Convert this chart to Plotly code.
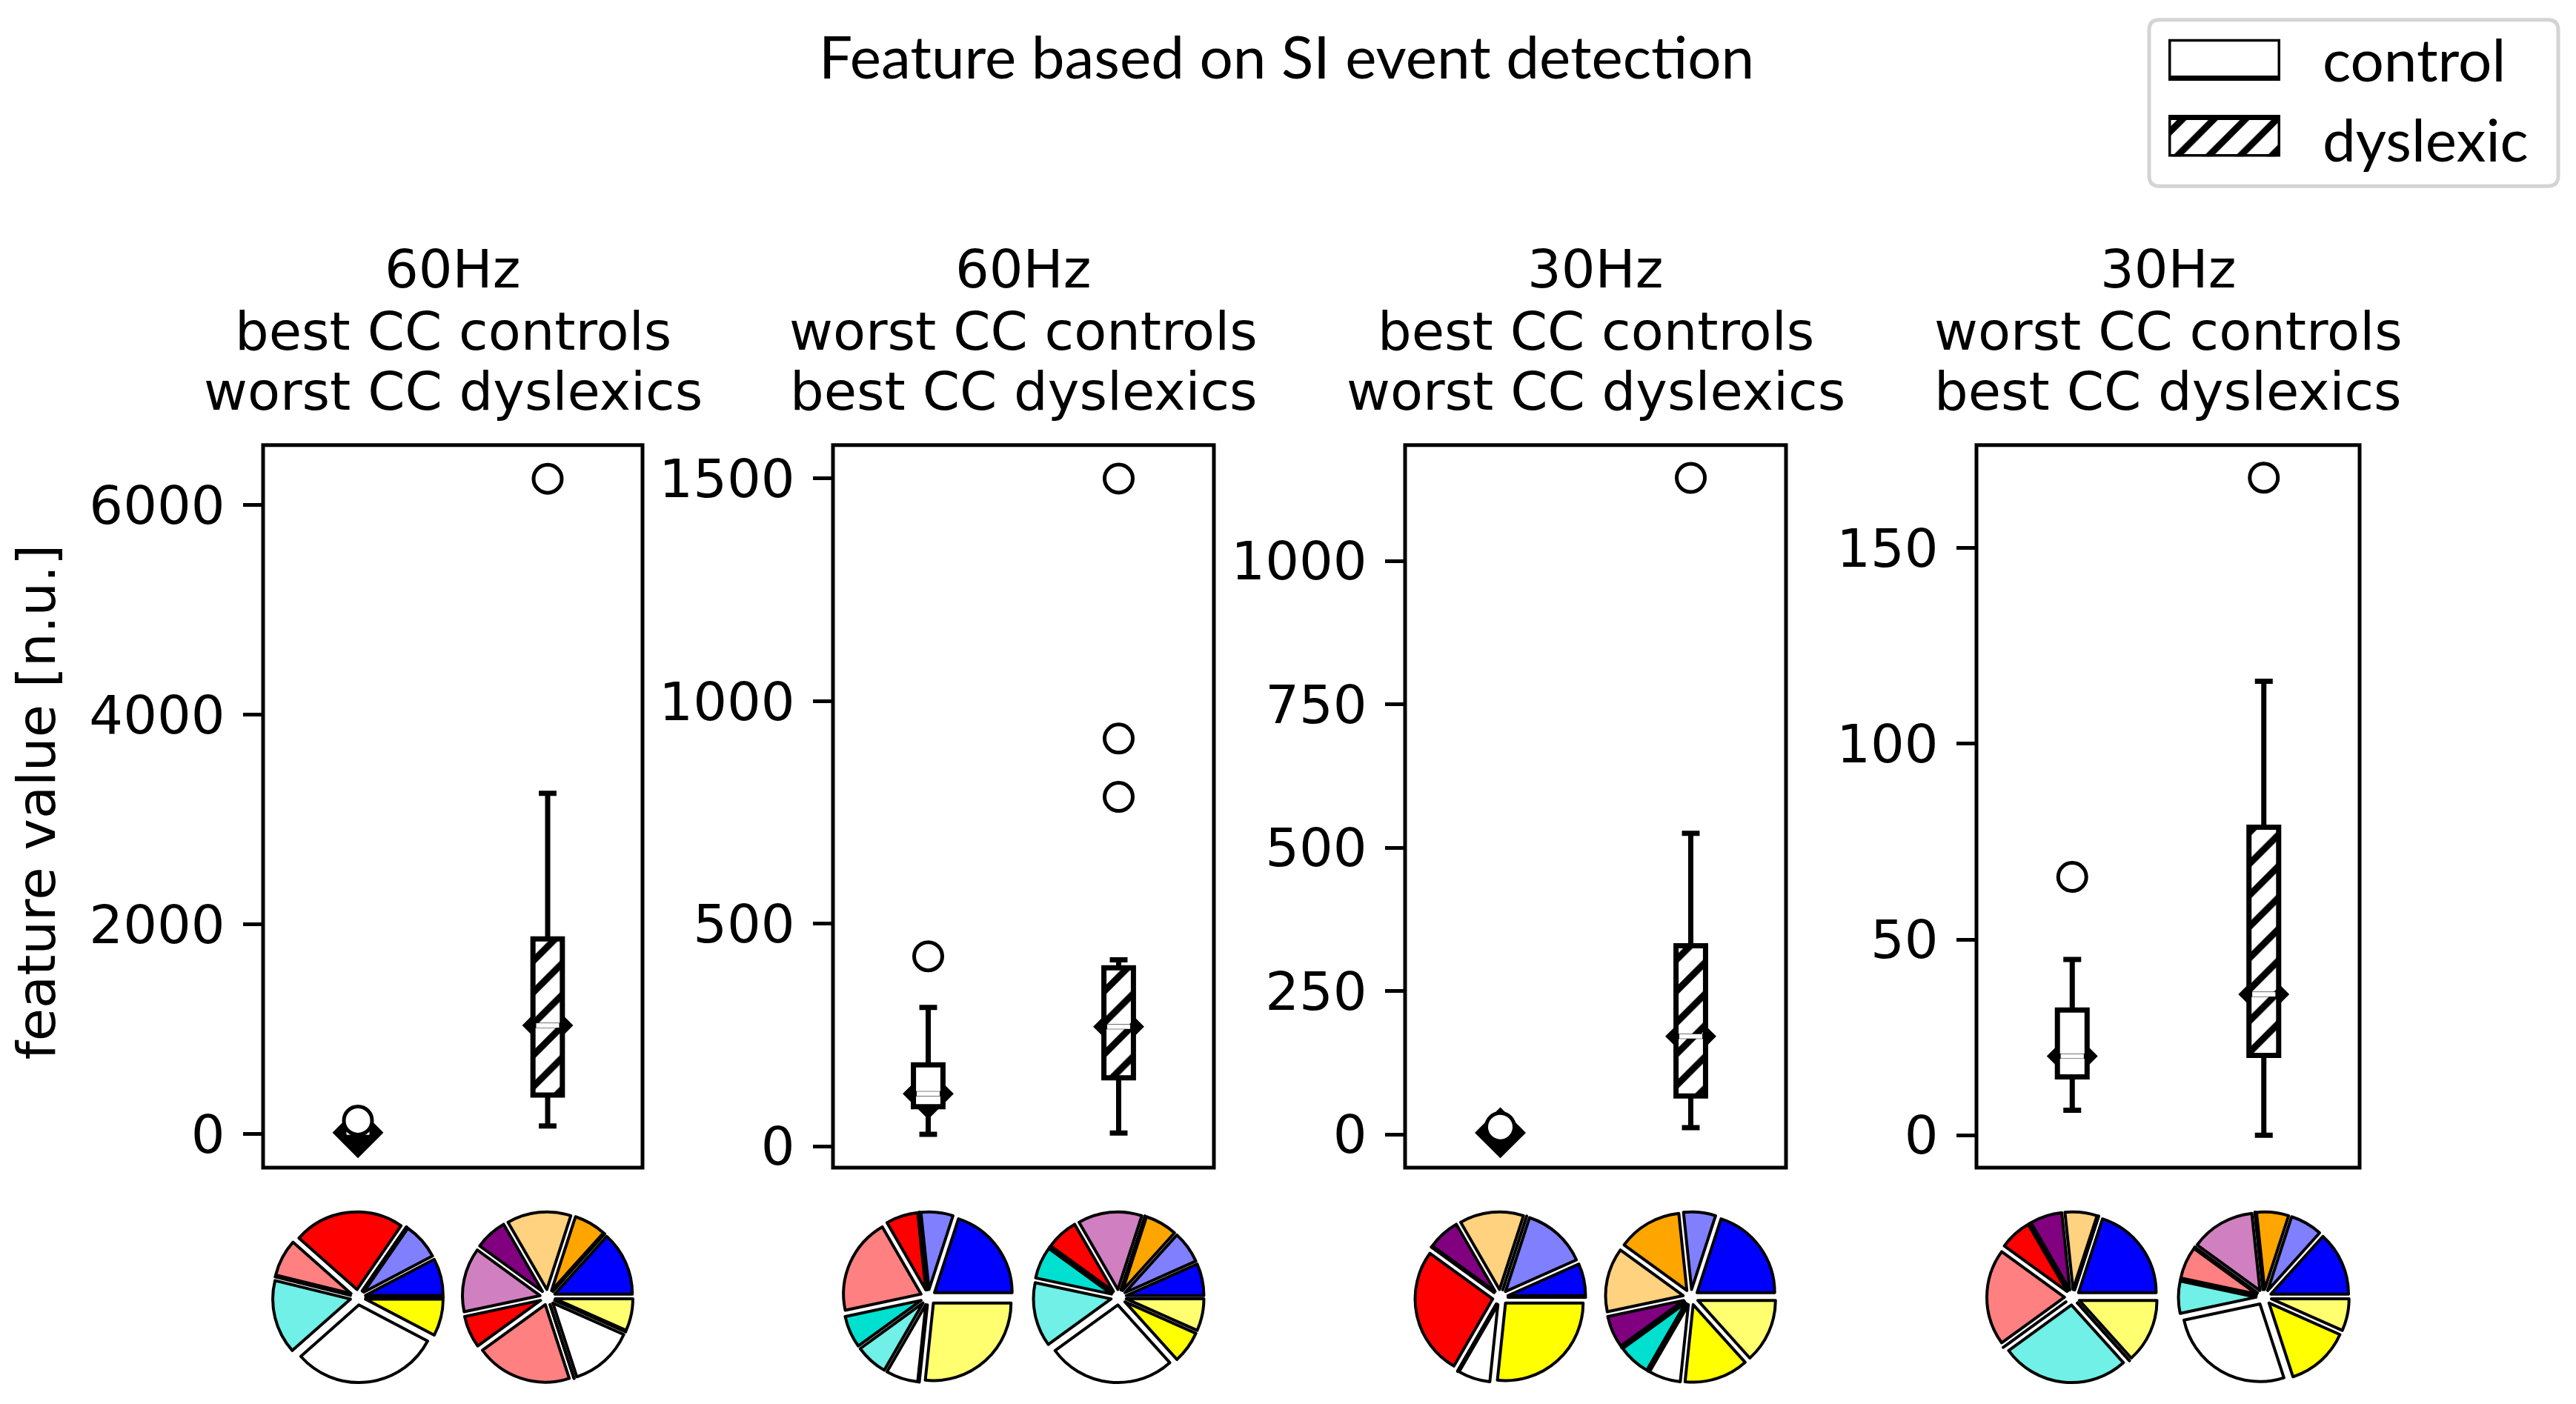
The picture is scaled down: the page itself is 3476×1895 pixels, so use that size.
import plotly.graph_objects as go

W, H = 3476, 1895
FONT = "DejaVu Sans"
FONT2 = "Lato"

# ---------------- data ----------------
title_text = "Feature based on SI event detection"
ylabel_text = "feature value [n.u.]"
panel_titles = [
    ["60Hz", "best CC controls", "worst CC dyslexics"],
    ["60Hz", "worst CC controls", "best CC dyslexics"],
    ["30Hz", "best CC controls", "worst CC dyslexics"],
    ["30Hz", "worst CC controls", "best CC dyslexics"],
]
groups = ["control", "dyslexic"]
group_pos = [1, 2]

# [lower whisker, q1, median, q3, upper whisker]
control_stats = [
    [0, 5, 15, 40, 80],
    [27, 89, 118, 183, 312],
    [0, 1, 3, 6, 10],
    [6.4, 14.9, 20.2, 32, 44.9],
]
dyslexic_stats = [
    [78, 374, 1037, 1863, 3251],
    [30, 154, 269, 401, 419],
    [12, 67, 171, 329, 525],
    [0, 20.4, 36, 78.7, 116],
]
control_outliers = [[130], [427], [13], [66]]
dyslexic_outliers = [[6251], [785, 916, 1500], [1145], [168]]

y_ticks = [
    [0, 2000, 4000, 6000],
    [0, 500, 1000, 1500],
    [0, 250, 500, 750, 1000],
    [0, 50, 100, 150],
]
y_ranges = [[-320, 6571], [-48, 1575], [-58, 1202], [-8.3, 176.3]]

# pie categories (counter-clockwise from 3 o'clock)
pie_categories = ["blue", "light blue", "orange", "light orange", "purple", "orchid",
                  "red", "salmon", "turquoise", "light turquoise", "white", "yellow",
                  "light yellow"]
pie_colors = ["#0000FF", "#8080FF", "#FFA500", "#FFD280", "#800080", "#D080C0",
              "#FF0000", "#FF8080", "#00E0D0", "#70F0E6", "#FFFFFF", "#FFFF00",
              "#FFFF70"]
# counts per panel: [control, dyslexic]
pie_counts = [
    [[1, 1, 0, 0, 0, 0, 3, 1, 0, 2, 4, 1, 0],
     [2, 0, 1, 2, 1, 2, 1, 3, 0, 0, 2, 0, 1]],
    [[3, 1, 0, 0, 0, 0, 1, 3, 1, 1, 1, 0, 4],
     [1, 1, 1, 0, 0, 2, 1, 0, 1, 2, 4, 1, 1]],
    [[1, 2, 0, 2, 1, 0, 4, 0, 0, 0, 1, 4, 0],
     [3, 1, 2, 2, 1, 0, 0, 0, 1, 0, 1, 2, 2]],
    [[3, 0, 0, 1, 1, 0, 1, 3, 0, 4, 0, 0, 2],
     [2, 1, 1, 0, 0, 2, 0, 1, 0, 1, 4, 2, 1]],
]

# ---------------- geometry / style ----------------
panel_px = [(355, 867), (1124, 1638), (1896, 2410), (2667, 3184)]
plot_top, plot_bottom = 605, 1587
x_range = [0.5, 2.5]
box_w = 0.155
LW = 5
HATCH = dict(fgcolor="black", bgcolor="white", fgopacity=1, size=30, solidity=0.3,
             fillmode="overlay")


def px_x(p):
    return p / W


def px_y(p):
    return 1 - p / H


fig = go.Figure()
layout = dict(
    width=W, height=H, margin=dict(l=0, r=0, t=0, b=0),
    paper_bgcolor="white", plot_bgcolor="white",
    showlegend=False, barmode="overlay", boxmode="overlay",
    font=dict(family=FONT, size=72, color="black"),
)
annotations = []
shapes = []

for i in range(4):
    k = "" if i == 0 else str(i + 1)
    xa, ya = "x" + k, "y" + k
    left, right = panel_px[i]
    layout["xaxis" + k] = dict(
        domain=[px_x(left), px_x(right)], range=x_range, anchor=ya,
        showticklabels=False, ticks="", showgrid=False, zeroline=False,
        showline=False, fixedrange=True)
    layout["yaxis" + k] = dict(
        domain=[px_y(plot_bottom), px_y(plot_top)], range=y_ranges[i], anchor=xa,
        tickvals=y_ticks[i], ticktext=[str(v) for v in y_ticks[i]],
        ticks="outside", ticklen=26, tickwidth=LW, tickcolor="black",
        tickfont=dict(family=FONT, size=72, color="black"), ticklabelstandoff=10,
        showgrid=False, zeroline=False, showline=False, fixedrange=True)
    # axes frame
    shapes.append(dict(type="rect", xref=xa + " domain", yref=ya + " domain",
                       x0=0, x1=1, y0=0, y1=1, line=dict(color="black", width=LW),
                       fillcolor="rgba(0,0,0,0)", layer="above"))

    stats = [control_stats[i], dyslexic_stats[i]]
    outs = [control_outliers[i], dyslexic_outliers[i]]

    # median diamonds (behind boxes)
    fig.add_trace(go.Scatter(
        x=group_pos, y=[s[2] for s in stats], mode="markers",
        marker=dict(symbol="diamond", size=53, color="black", line=dict(width=0)),
        xaxis=xa, yaxis=ya, zorder=1, hoverinfo="skip"))

    # box bodies (white / hatched)
    fig.add_trace(go.Bar(
        x=group_pos, base=[s[1] for s in stats], y=[s[3] - s[1] for s in stats],
        width=[box_w, box_w],
        marker=dict(color="white", line=dict(width=0),
                    pattern=dict(shape=["", "/"], **HATCH)),
        xaxis=xa, yaxis=ya, zorder=2, hoverinfo="skip"))

    # box outlines + whiskers
    for g in range(2):
        s = stats[g]
        fig.add_trace(go.Box(
            x=[group_pos[g]], lowerfence=[s[0]], q1=[s[1]], median=[s[2]],
            q3=[s[3]], upperfence=[s[4]], width=box_w, whiskerwidth=0.6,
            line=dict(color="black", width=7), fillcolor="rgba(0,0,0,0)",
            boxpoints=False, xaxis=xa, yaxis=ya, zorder=3, hoverinfo="skip",
            name=groups[g]))

    # white median lines inside boxes
    for g in range(2):
        s = stats[g]
        if s[3] - s[1] <= 0:
            continue
        hw = box_w / 2 * 0.78
        fig.add_trace(go.Scatter(
            x=[group_pos[g] - hw, group_pos[g] + hw], y=[s[2], s[2]], mode="lines",
            line=dict(color="white", width=6), xaxis=xa, yaxis=ya, zorder=4,
            hoverinfo="skip"))

    # outliers (white-filled circles)
    ox, oy = [], []
    for g in range(2):
        ox += [group_pos[g]] * len(outs[g])
        oy += outs[g]
    fig.add_trace(go.Scatter(
        x=ox, y=oy, mode="markers",
        marker=dict(symbol="circle", size=38, color="white",
                    line=dict(width=5, color="black")),
        xaxis=xa, yaxis=ya, zorder=5, hoverinfo="skip"))

    # panel titles
    for line_txt, ycen in zip(panel_titles[i], [366, 450, 532]):
        annotations.append(dict(
            text=line_txt, x=px_x((left + right) / 2), y=px_y(ycen),
            xref="paper", yref="paper", xanchor="center", yanchor="middle",
            showarrow=False, font=dict(family=FONT, size=72, color="black")))

    # pies (slices counter-clockwise from 3 o'clock)
    w = right - left
    for g in range(2):
        vals = pie_counts[i][g]
        first_angle = 360.0 * vals[0] / sum(vals)
        cx = left + (group_pos[g] - x_range[0]) / (x_range[1] - x_range[0]) * w
        cy, half = 1763, 116
        fig.add_trace(go.Pie(
            labels=pie_categories, values=vals, sort=False,
            direction="counterclockwise", rotation=90 - first_angle, pull=0.1,
            marker=dict(colors=pie_colors, line=dict(color="black", width=4)),
            textinfo="none", hoverinfo="skip", showlegend=False,
            domain=dict(x=[px_x(cx - half), px_x(cx + half)],
                        y=[px_y(cy + half), px_y(cy - half)])))

# legend swatches drawn as bars on a hidden axis
layout["xaxis5"] = dict(domain=[px_x(2926), px_x(3077)], range=[0, 1], visible=False,
                        anchor="y5", fixedrange=True)
layout["yaxis5"] = dict(domain=[px_y(213), px_y(53)], range=[-0.25, 1.25], visible=False,
                        anchor="x5", fixedrange=True)
fig.add_trace(go.Bar(
    y=[1, 0], x=[1, 1], orientation="h", width=[0.5, 0.5],
    marker=dict(color="white", line=dict(color="black", width=7),
                pattern=dict(shape=["", "/"], **HATCH)),
    xaxis="x5", yaxis="y5", hoverinfo="skip"))
for lab, ycen in zip(groups, [80, 188]):
    annotations.append(dict(
        text=lab, x=px_x(3132), y=px_y(ycen), xref="paper", yref="paper",
        xanchor="left", yanchor="middle", showarrow=False,
        font=dict(family=FONT2, size=80, color="black")))

# legend frame (rounded)
x0, x1, y0, y1, rr = 2900, 3452, 27, 253, 14
def P(px, py):
    return f"{px_x(px):.6f},{px_y(py):.6f}"
path = (f"M {P(x0+rr, y0)} L {P(x1-rr, y0)} Q {P(x1, y0)} {P(x1, y0+rr)} "
        f"L {P(x1, y1-rr)} Q {P(x1, y1)} {P(x1-rr, y1)} L {P(x0+rr, y1)} "
        f"Q {P(x0, y1)} {P(x0, y1-rr)} L {P(x0, y0+rr)} Q {P(x0, y0)} {P(x0+rr, y0)} Z")
shapes.append(dict(type="path", path=path, xref="paper", yref="paper",
                   line=dict(color="#d4d4d4", width=5), fillcolor="rgba(0,0,0,0)",
                   layer="below"))

# figure title and y label
annotations.append(dict(
    text=title_text, x=px_x(1736), y=px_y(76), xref="paper", yref="paper",
    xanchor="center", yanchor="middle", showarrow=False,
    font=dict(family=FONT2, size=80, color="black")))
annotations.append(dict(
    text=ylabel_text, x=px_x(49), y=px_y(1090), xref="paper", yref="paper",
    xanchor="center", yanchor="middle", textangle=-90, showarrow=False,
    font=dict(family=FONT, size=72, color="black")))

layout["annotations"] = annotations
layout["shapes"] = shapes
fig.update_layout(**layout)

fig.write_html("out.html", config={"displayModeBar": False},
               post_script="document.body.style.margin='0';document.body.style.overflow='hidden';")
